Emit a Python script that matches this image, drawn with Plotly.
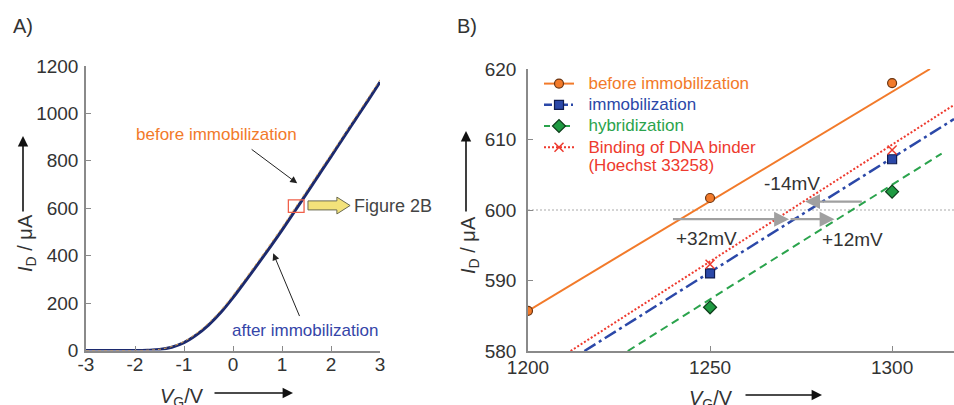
import plotly.graph_objects as go

# ---------------- data: panel A (transfer curve) ----------------
vg_a = [-3, -2.5, -2, -1.75, -1.5, -1.25, -1, -0.75, -0.5, -0.25, 0, 0.25, 0.5,
        0.75, 1, 1.25, 1.5, 1.75, 2, 2.25, 2.5, 2.75, 3]
id_before = [0, 0, 0, 1, 5, 17, 38, 72, 116, 170, 234, 303, 374, 446, 520, 597,
             674, 752, 829, 907, 986, 1064, 1142]
id_after = [0, 0, 0, 1, 4, 14, 33, 65, 107, 160, 223, 292, 362, 434, 508, 585,
            662, 740, 818, 897, 975, 1053, 1132]
ticks_a_x = [-3, -2, -1, 0, 1, 2, 3]
ticklabels_a_x = ["-3", "-2", "-1", "0", "1", "2", "3"]
ticks_a_y = [0, 200, 400, 600, 800, 1000, 1200]

# ---------------- data: panel B (zoom near 600 uA) ----------------
vg_before = [1200, 1250, 1300]
id_b_before = [585.7, 601.7, 618.0]
vg_pts = [1250, 1300]
id_b_immob = [591.0, 607.2]
id_b_hybrid = [586.2, 602.6]
id_b_binder = [592.3, 608.5]

fit_before_x = [1200, 1310.4]
fit_before_y = [585.7, 620.0]
fit_immob_x = [1215.5, 1317]
fit_immob_y = [580.0, 612.9]
fit_hybrid_x = [1227.4, 1313.6]
fit_hybrid_y = [580.0, 608.0]
fit_binder_x = [1211.7, 1317]
fit_binder_y = [580.0, 614.9]

ticks_b_x = [1200, 1250, 1300]
ticks_b_y = [580, 590, 600, 610, 620]

# shift arrows: (from x, to x, y)
shift_arrows = [
    (1239.4, 1271.7, 598.7),
    (1271.7, 1284.2, 598.7),
    (1292.1, 1276.1, 601.2),
]
shift_labels = [("+32mV", 1249, 596.0), ("+12mV", 1289, 595.8), ("-14mV", 1272.5, 603.8)]

ORANGE = "#f27a2a"
BLUE = "#2b48a8"
GREEN = "#2aa34c"
RED = "#ee3a2e"
NAVY = "#1c2a6e"
FONT = "Liberation Sans, Arial, sans-serif"

W, H = 954, 405
def px(x): return x / W
def py(y): return 1 - y / H

fig = go.Figure()

# Panel A curves
fig.add_trace(go.Scatter(x=vg_a, y=id_after, mode="lines", line=dict(color=NAVY, width=3, shape="spline"),
                         showlegend=False, xaxis="x", yaxis="y"))
fig.add_trace(go.Scatter(x=vg_a, y=id_before, mode="lines", line=dict(color="#d9a050", width=1, dash="dot", shape="spline"),
                         showlegend=False, xaxis="x", yaxis="y"))

# Panel B fit lines
fig.add_trace(go.Scatter(x=fit_before_x, y=fit_before_y, mode="lines", line=dict(color=ORANGE, width=2),
                         showlegend=False, xaxis="x2", yaxis="y2"))
fig.add_trace(go.Scatter(x=fit_binder_x, y=fit_binder_y, mode="lines", line=dict(color=RED, width=2, dash="2px,2px"),
                         showlegend=False, xaxis="x2", yaxis="y2"))
fig.add_trace(go.Scatter(x=fit_immob_x, y=fit_immob_y, mode="lines", line=dict(color=BLUE, width=2.5, dash="13px,4px,3px,4px"),
                         showlegend=False, xaxis="x2", yaxis="y2"))
fig.add_trace(go.Scatter(x=fit_hybrid_x, y=fit_hybrid_y, mode="lines", line=dict(color=GREEN, width=2, dash="8px,5px"),
                         showlegend=False, xaxis="x2", yaxis="y2"))

# Panel B markers
m_before = dict(symbol="circle", size=9, color=ORANGE, line=dict(color="#6b3410", width=1.2))
m_immob = dict(symbol="square", size=9, color=BLUE, line=dict(color="#101c50", width=1.2))
m_hybrid = dict(symbol="diamond", size=10, color="#1f9a42", line=dict(color="#0d3d1a", width=1.2))
m_binder = dict(symbol="x-thin", size=9, color=RED, line=dict(color=RED, width=1.5))

fig.add_trace(go.Scatter(x=vg_before, y=id_b_before, mode="markers", marker=m_before, showlegend=False, xaxis="x2", yaxis="y2"))
fig.add_trace(go.Scatter(x=vg_pts, y=id_b_immob, mode="markers", marker=m_immob, showlegend=False, xaxis="x2", yaxis="y2"))
fig.add_trace(go.Scatter(x=vg_pts, y=id_b_hybrid, mode="markers", marker=m_hybrid, showlegend=False, xaxis="x2", yaxis="y2"))
fig.add_trace(go.Scatter(x=vg_pts, y=id_b_binder, mode="markers", marker=m_binder, showlegend=False, xaxis="x2", yaxis="y2"))

# Legend-only traces
def span(t, c):
    return f'<span style="color:{c};font-size:17px">&nbsp;&nbsp;{t}</span>'
fig.add_trace(go.Scatter(x=[None], y=[None], mode="lines+markers", marker=m_before, line=dict(color=ORANGE, width=2),
                         name=span("before immobilization", ORANGE), xaxis="x2", yaxis="y2"))
fig.add_trace(go.Scatter(x=[None], y=[None], mode="lines+markers", marker=m_immob, line=dict(color=BLUE, width=2.5, dash="8px,3px,2px,3px"),
                         name=span("immobilization", BLUE), xaxis="x2", yaxis="y2"))
fig.add_trace(go.Scatter(x=[None], y=[None], mode="lines+markers", marker=m_hybrid, line=dict(color=GREEN, width=2, dash="6px,4px"),
                         name=span("hybridization", GREEN), xaxis="x2", yaxis="y2"))
fig.add_trace(go.Scatter(x=[None], y=[None], mode="lines+markers", marker=m_binder, line=dict(color=RED, width=2, dash="2px,2px"),
                         name=span("Binding of DNA binder", RED) + "<br>" + span("(Hoechst 33258)", RED),
                         xaxis="x2", yaxis="y2"))

axis_common = dict(showline=True, linecolor="#8a8a8a", linewidth=1.5, ticks="inside", ticklen=5,
                   tickcolor="#8a8a8a", tickwidth=1.2, showgrid=False, zeroline=False, automargin=False,
                   tickfont=dict(family=FONT, size=19, color="#333333"))

fig.update_layout(
    width=W, height=H, margin=dict(l=0, r=0, t=0, b=0, pad=0, autoexpand=False),
    paper_bgcolor="white", plot_bgcolor="white",
    font=dict(family=FONT, size=17, color="#333333"),
    xaxis=dict(domain=[px(86), px(380)], range=[-3, 3], tickvals=ticks_a_x, ticktext=ticklabels_a_x,
               anchor="y", ticklabelstandoff=-4, **axis_common),
    yaxis=dict(domain=[py(350.5), py(66)], range=[0, 1200], tickvals=ticks_a_y, anchor="x",
               ticklabelstandoff=2, **axis_common),
    xaxis2=dict(domain=[px(528), 1.0], range=[1200, 1317], tickvals=ticks_b_x, anchor="y2",
                ticklabelstandoff=-2, **axis_common),
    yaxis2=dict(domain=[py(351), py(69)], range=[580, 620], tickvals=ticks_b_y, anchor="x2",
                ticklabelstandoff=6, **axis_common),
    legend=dict(x=px(539), y=py(68), xanchor="left", yanchor="top", bgcolor="rgba(0,0,0,0)",
                font=dict(family=FONT, size=14), valign="top", tracegroupgap=0),
)

# dotted 600 reference line
fig.add_shape(type="line", xref="x2", yref="y2", x0=1200, x1=1317, y0=600, y1=600,
              line=dict(color="#aaaaaa", width=1.2, dash="2px,2px"), layer="below")

# red box in panel A
fig.add_shape(type="rect", xref="x", yref="y", x0=1.13, x1=1.45, y0=583, y1=635,
              line=dict(color="#f0604a", width=1.3))

# yellow block arrow (panel A -> Figure 2B)
ya_x = [1.53, 2.12, 2.39]
ya_y = [593, 631, 576, 647, 611.5]
path = (f"M {ya_x[0]},{ya_y[0]} L {ya_x[0]},{ya_y[1]} L {ya_x[1]},{ya_y[1]} L {ya_x[1]},{ya_y[3]} "
        f"L {ya_x[2]},{ya_y[4]} L {ya_x[1]},{ya_y[2]} L {ya_x[1]},{ya_y[0]} Z")
fig.add_shape(type="path", xref="x", yref="y", path=path, fillcolor="#f3e27a",
              line=dict(color="#6a6a50", width=1))

ann = []
ann.append(dict(text="Figure 2B", x=2.43, y=611, xref="x", yref="y", xanchor="left", yanchor="middle",
                showarrow=False, font=dict(size=18, color="#444444")))
ann.append(dict(text="before immobilization", x=-0.33, y=909, xref="x", yref="y", showarrow=False,
                xanchor="center", yanchor="middle", font=dict(size=17, color=ORANGE)))
ann.append(dict(text="after immobilization", x=1.47, y=83, xref="x", yref="y", showarrow=False,
                xanchor="center", yanchor="middle", font=dict(size=17, color="#3545a8")))
ann.append(dict(text="", x=1.31, y=705, ax=0.35, ay=853, xref="x", yref="y", axref="x", ayref="y",
                showarrow=True, arrowhead=2, arrowsize=1.4, arrowwidth=1, arrowcolor="#222222"))
ann.append(dict(text="", x=0.82, y=410, ax=1.37, ay=139, xref="x", yref="y", axref="x", ayref="y",
                showarrow=True, arrowhead=2, arrowsize=1.4, arrowwidth=1, arrowcolor="#222222"))

for (x0, x1, yv) in shift_arrows:
    ann.append(dict(text="", x=x1, y=yv, ax=x0, ay=yv, xref="x2", yref="y2", axref="x2", ayref="y2",
                    showarrow=True, arrowhead=2, arrowsize=1.3, arrowwidth=2.3, arrowcolor="#a0a0a0"))
for (t, xv, yv) in shift_labels:
    ann.append(dict(text=t, x=xv, y=yv, xref="x2", yref="y2", showarrow=False,
                    xanchor="center", yanchor="middle", font=dict(size=19, color="#333333")))

# panel letters
ann.append(dict(text="A)", x=px(11), y=py(26), xref="paper", yref="paper", xanchor="left", yanchor="middle",
                showarrow=False, font=dict(size=20, color="#333333")))
ann.append(dict(text="B)", x=px(455), y=py(26), xref="paper", yref="paper", xanchor="left", yanchor="middle",
                showarrow=False, font=dict(size=20, color="#333333")))

# axis titles with arrows
ytitle = "<i>I</i><sub>D</sub> / μA"
xtitle = "<i>V</i><sub>G</sub>/V"
for (xc, yc, ytip, ytail) in [(26, 243, 136, 213), (469, 245, 131, 213)]:
    ann.append(dict(text=ytitle, x=px(xc), y=py(yc), xref="paper", yref="paper", textangle=-90,
                    xanchor="center", yanchor="middle",
                    showarrow=False, font=dict(size=20, color="#333333")))
    ann.append(dict(text="", x=px(xc - 3), y=py(ytip), xref="paper", yref="paper", ax=0, ay=ytail - ytip,
                    showarrow=True, arrowhead=2, arrowsize=1.3, arrowwidth=1.6, arrowcolor="#111111"))
for (xc, yc, xtail, xtip) in [(182, 397, 213, 293), (711, 399, 744, 822)]:
    ann.append(dict(text=xtitle, x=px(xc), y=py(yc), xref="paper", yref="paper",
                    xanchor="center", yanchor="middle",
                    showarrow=False, font=dict(size=20, color="#333333")))
    ann.append(dict(text="", x=px(xtip), y=py(yc - 4), xref="paper", yref="paper", ax=-(xtip - xtail), ay=0,
                    showarrow=True, arrowhead=2, arrowsize=1.3, arrowwidth=1.6, arrowcolor="#111111"))

fig.update_layout(annotations=ann)
fig.write_html("out.html", config={"displayModeBar": False},
               post_script="document.body.style.margin='0px';")
